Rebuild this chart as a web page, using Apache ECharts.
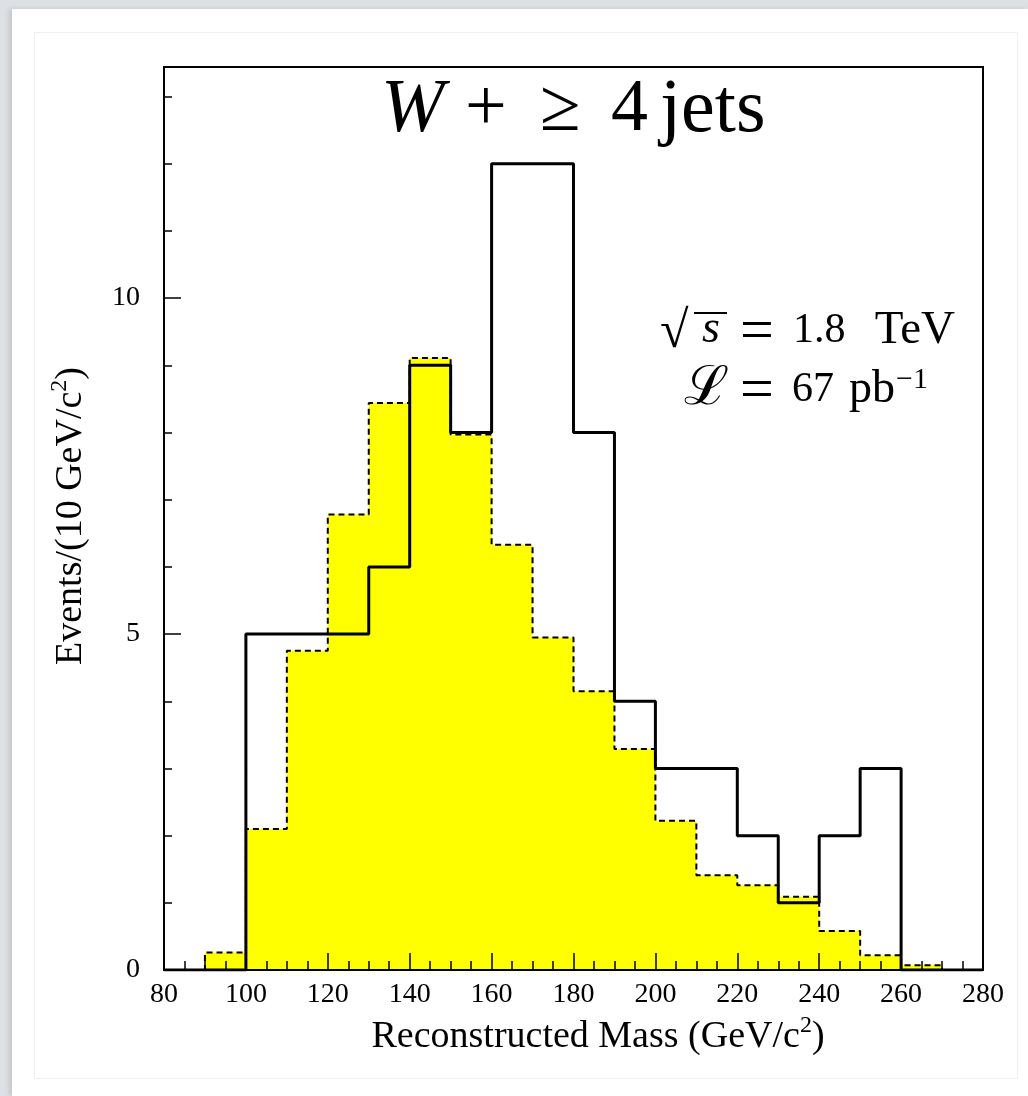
<!DOCTYPE html>
<html>
<head>
<meta charset="utf-8">
<script src="https://cdn.jsdelivr.net/npm/echarts@6/dist/echarts.min.js"></script>
<style>
  html, body { margin: 0; padding: 0; width: 1028px; height: 1096px; overflow: hidden; background: #dde1e5; }
  #card { position: absolute; left: 12px; top: 9px; right: 0; bottom: 0; background: #ffffff; box-shadow: -3px 0 5px rgba(0,0,0,0.12); }
  #inner { position: absolute; left: 34px; top: 32px; width: 982px; height: 1045px; border: 1px solid #efefef; }
  #chart { position: absolute; left: 0; top: 0; width: 1028px; height: 1096px; }
</style>
</head>
<body>
<div id="card"></div>
<div id="inner"></div>
<div id="chart"></div>
<script>
// ---- data ----
var binStart = 80;
var binWidth = 10;
// observed events per 10 GeV/c^2 bin, 80..280
var dataCounts = [0, 0, 5, 5, 5, 6, 9, 8, 12, 12, 8, 4, 3, 3, 2, 1, 2, 3, 0, 0];
// expected (yellow, dashed) per bin, 80..280
var mcCounts = [0, 0.26, 2.10, 4.75, 6.78, 8.44, 9.11, 7.97, 6.33, 4.95, 4.15, 3.29, 2.22, 1.41, 1.26, 1.09, 0.58, 0.22, 0.07, 0];
var yMajorTicks = [0, 5, 10];
var yMinorTicks = [1, 2, 3, 4, 6, 7, 8, 9, 11, 12, 13];
var xMin = 80, xMax = 280, yMax = 13.44;

function toSteps(vals) {
  var pts = [];
  for (var i = 0; i < vals.length; i++) pts.push([binStart + i * binWidth, vals[i]]);
  pts.push([binStart + vals.length * binWidth, vals[vals.length - 1]]);
  return pts;
}

var serif = '"Liberation Serif", "DejaVu Serif", serif';
function txt(s, x, y, font, align) {
  return { type: 'text', x: x, y: y, z: 10,
    style: { text: s, fill: '#000', font: font, align: align || 'left', verticalAlign: 'middle' } };
}

var chart = echarts.init(document.getElementById('chart'), null, { renderer: 'canvas' });

var option = {
  animation: false,
  backgroundColor: 'transparent',
  grid: { left: 164, top: 67, right: 45, bottom: 126, show: true, borderColor: '#000', borderWidth: 2, backgroundColor: 'transparent' },
  xAxis: {
    type: 'value', min: xMin, max: xMax, interval: 20, z: 5,
    axisLine: { show: true, lineStyle: { color: '#000', width: 2 } },
    axisTick: { show: true, inside: true, length: 17, lineStyle: { color: '#000', width: 1.5 } },
    minorTick: { show: true, splitNumber: 4, length: 9, lineStyle: { color: '#000', width: 1.5 } },
    axisLabel: { color: '#000', fontFamily: serif, fontSize: 28, margin: 11 },
    splitLine: { show: false }
  },
  yAxis: [{
    type: 'value', min: 0, max: yMax, z: 5,
    axisLine: { show: true, lineStyle: { color: '#000', width: 2 } },
    axisTick: { show: true, inside: true, length: 17, customValues: yMajorTicks, lineStyle: { color: '#000', width: 1.5 } },
    axisLabel: { color: '#000', fontFamily: serif, fontSize: 28, margin: 24, customValues: yMajorTicks },
    splitLine: { show: false }
  }, {
    type: 'value', min: 0, max: yMax, position: 'left', z: 5,
    axisLine: { show: false },
    axisTick: { show: true, inside: true, length: 8, customValues: yMinorTicks, lineStyle: { color: '#000', width: 1.5 } },
    axisLabel: { show: false },
    splitLine: { show: false }
  }],
  series: [{
    type: 'line', step: 'end', data: toSteps(mcCounts), yAxisIndex: 0,
    symbol: 'none', z: 2,
    lineStyle: { color: '#000', width: 2, type: [6, 4] },
    areaStyle: { color: '#ffff00', opacity: 1 }
  }, {
    type: 'line', step: 'end', data: toSteps(dataCounts), yAxisIndex: 0,
    symbol: 'none', z: 3,
    lineStyle: { color: '#000', width: 3 }
  }],
  graphic: [
    // title  W + >= 4 jets
    txt('W', 381, 111, 'italic 76px ' + serif),
    txt('+', 465, 111, '74px ' + serif),
    txt('≥', 540, 111, '74px ' + serif),
    txt('4', 611, 111, '74px ' + serif),
    txt('jets', 660, 111, '76px ' + serif),
    // sqrt(s) = 1.8 TeV
    txt('√', 660, 333, '52px ' + serif),
    { type: 'line', z: 10, shape: { x1: 694, y1: 313, x2: 727, y2: 313 }, style: { stroke: '#000', lineWidth: 2 } },
    txt('s', 702, 330, 'italic 46px ' + serif),
    txt('=', 740, 333, '60px ' + serif),
    txt('1.8', 793, 331, '42px ' + serif),
    txt('TeV', 955, 331, '47px ' + serif, 'right'),
    // L = 67 pb^-1
    txt('ℒ', 684, 390, '54px ' + serif),
    txt('=', 740, 392, '60px ' + serif),
    txt('67', 792, 390, '42px ' + serif),
    { type: 'text', x: 849, y: 390, z: 10,
      style: { text: 'pb{sup|−1}', fill: '#000', font: '46px ' + serif, align: 'left', verticalAlign: 'middle',
        rich: { sup: { fontFamily: serif, fontSize: 30, padding: [0, 0, 20, 1] } } } },
    // axis titles
    { type: 'text', x: 598, y: 1037, z: 10,
      style: { text: 'Reconstructed Mass (GeV/c{sup|2})', fill: '#000', font: '38px ' + serif, align: 'center', verticalAlign: 'middle',
        rich: { sup: { fontFamily: serif, fontSize: 24, padding: [0, 0, 22, 0] } } } },
    { type: 'text', x: 71, y: 516, rotation: Math.PI / 2, z: 10,
      style: { text: 'Events/(10 GeV/c{sup|2})', fill: '#000', font: '38px ' + serif, align: 'center', verticalAlign: 'middle',
        rich: { sup: { fontFamily: serif, fontSize: 24, padding: [0, 0, 22, 0] } } } }
  ]
};
chart.setOption(option);
</script>
</body>
</html>
